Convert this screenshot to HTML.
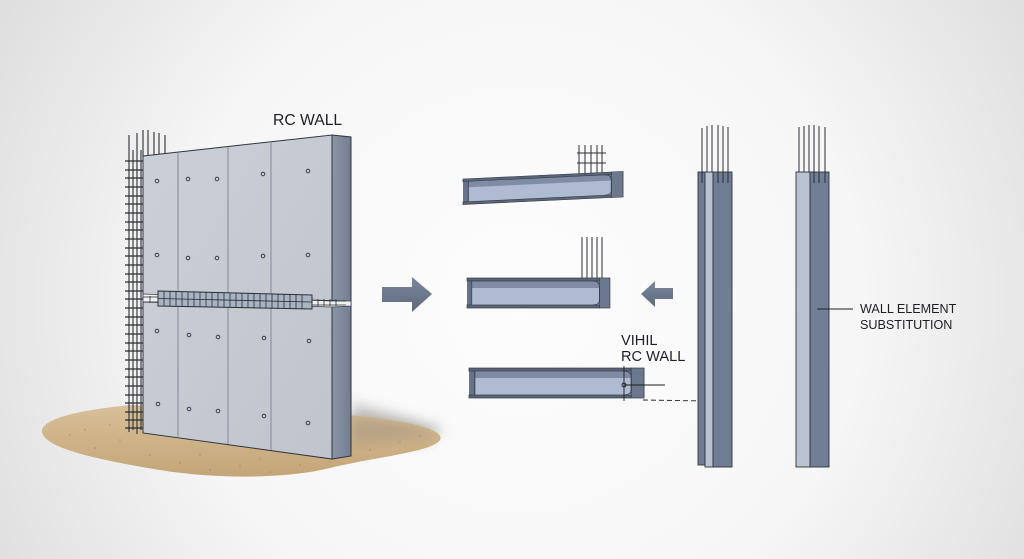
<!DOCTYPE html>
<html><head><meta charset="utf-8"><style>
html,body{margin:0;padding:0;width:1024px;height:559px;overflow:hidden;background:#f4f4f4}
svg{display:block}
text{font-family:"Liberation Sans",sans-serif;fill:#1d1f24}
</style></head><body>
<svg width="1024" height="559" viewBox="0 0 1024 559" xmlns="http://www.w3.org/2000/svg">
<defs>
<radialGradient id="bg" cx="520" cy="300" r="620" gradientUnits="userSpaceOnUse">
<stop offset="0" stop-color="#fdfdfd"/><stop offset="0.55" stop-color="#f6f6f6"/><stop offset="1" stop-color="#dcdcdc"/>
</radialGradient>
<linearGradient id="ground" x1="0" y1="0" x2="0" y2="1">
<stop offset="0" stop-color="#d8c09a"/><stop offset="1" stop-color="#c4a577"/>
</linearGradient>
<linearGradient id="face" x1="0" y1="0" x2="1" y2="1">
<stop offset="0" stop-color="#cbcfd6"/><stop offset="1" stop-color="#c0c5cd"/>
</linearGradient>
<linearGradient id="side" x1="0" y1="0" x2="1" y2="0">
<stop offset="0" stop-color="#8a94a5"/><stop offset="1" stop-color="#737e91"/>
</linearGradient>
<linearGradient id="arr" x1="0" y1="0" x2="0" y2="1">
<stop offset="0" stop-color="#7a879b"/><stop offset="1" stop-color="#5e6a7e"/>
</linearGradient>
<filter id="blur" x="-20%" y="-20%" width="140%" height="140%"><feGaussianBlur stdDeviation="6"/></filter>
<g id="beam">
<!-- generic beam length 150 (incl. plate 11), height 30 -->
<rect x="0" y="0" width="139" height="30" fill="#66738a"/>
<rect x="5" y="3" width="134" height="24" fill="#aebbd0"/>
<rect x="5" y="3" width="134" height="7" fill="#7f8ca3"/>
<rect x="0" y="0" width="139" height="3" fill="#5a6578" stroke="#363d49" stroke-width="0.7"/>
<rect x="0" y="27" width="139" height="3" fill="#5a6578" stroke="#363d49" stroke-width="0.7"/>
<line x1="5" y1="3" x2="5" y2="27" stroke="#363d49" stroke-width="0.8"/>
<rect x="139" y="0" width="11" height="30" fill="#6c788e" stroke="#363d49" stroke-width="0.7"/>
<path d="M132,3 Q139,3 139,9 L139,22 Q139,27 132,27" fill="none" stroke="#363d49" stroke-width="0.8"/>
</g>
</defs>
<rect width="1024" height="559" fill="url(#bg)"/>

<!-- ground -->
<path d="M352,402 L445,428 L420,445 L352,440 Z" fill="#8d8d8d" opacity="0.45" filter="url(#blur)"/>
<path d="M42,430 C45,418 80,410 130,405 L350,415 C400,420 446,428 440,440 C432,452 380,456 330,468 C290,478 220,480 160,470 C100,460 40,448 42,430 Z" fill="url(#ground)"/>
<path d="M352,415 C395,420 430,428 438,436 L352,445 Z" fill="#9c8f7e" opacity="0.5" filter="url(#blur)"/>
<g fill="#9b7e55" opacity="0.7">
<circle cx="70" cy="435" r="0.8"/><circle cx="95" cy="448" r="0.8"/><circle cx="120" cy="440" r="0.8"/><circle cx="150" cy="455" r="0.8"/><circle cx="180" cy="463" r="0.8"/><circle cx="210" cy="470" r="0.8"/><circle cx="240" cy="466" r="0.8"/><circle cx="270" cy="472" r="0.8"/><circle cx="300" cy="465" r="0.8"/><circle cx="330" cy="462" r="0.8"/><circle cx="370" cy="450" r="0.8"/><circle cx="400" cy="442" r="0.8"/><circle cx="420" cy="436" r="0.8"/><circle cx="110" cy="425" r="0.8"/><circle cx="200" cy="455" r="0.8"/><circle cx="260" cy="459" r="0.8"/><circle cx="85" cy="430" r="0.8"/>
</g>

<!-- left rebar grid -->
<g stroke="#2b2e33" stroke-width="1.1">
<line x1="129" y1="135" x2="129" y2="432"/><line x1="133" y1="150" x2="133" y2="430"/><line x1="137" y1="133" x2="137" y2="434"/><line x1="141" y1="150" x2="141" y2="430"/>
<line x1="143" y1="130" x2="143" y2="156"/><line x1="148" y1="130" x2="148" y2="156"/><line x1="154" y1="132" x2="154" y2="155"/><line x1="159" y1="133" x2="159" y2="155"/><line x1="165" y1="135" x2="165" y2="154"/>
</g>
<g stroke="#2b2e33" stroke-width="1.2" id="hbars">
<line x1="125" y1="161" x2="143" y2="161"/><line x1="125" y1="170" x2="143" y2="170"/><line x1="125" y1="178" x2="143" y2="178"/><line x1="125" y1="187" x2="143" y2="187"/><line x1="125" y1="196" x2="143" y2="196"/><line x1="125" y1="204" x2="143" y2="204"/><line x1="125" y1="213" x2="143" y2="213"/><line x1="125" y1="222" x2="143" y2="222"/><line x1="125" y1="230" x2="143" y2="230"/><line x1="125" y1="239" x2="143" y2="239"/><line x1="125" y1="248" x2="143" y2="248"/><line x1="125" y1="256" x2="143" y2="256"/><line x1="125" y1="265" x2="143" y2="265"/><line x1="125" y1="274" x2="143" y2="274"/><line x1="125" y1="282" x2="143" y2="282"/><line x1="125" y1="291" x2="143" y2="291"/><line x1="125" y1="299" x2="143" y2="299"/><line x1="125" y1="308" x2="143" y2="308"/><line x1="125" y1="317" x2="143" y2="317"/><line x1="125" y1="325" x2="143" y2="325"/><line x1="125" y1="334" x2="143" y2="334"/><line x1="125" y1="343" x2="143" y2="343"/><line x1="125" y1="351" x2="143" y2="351"/><line x1="125" y1="360" x2="143" y2="360"/><line x1="125" y1="369" x2="143" y2="369"/><line x1="125" y1="377" x2="143" y2="377"/><line x1="125" y1="386" x2="143" y2="386"/><line x1="125" y1="395" x2="143" y2="395"/><line x1="125" y1="403" x2="143" y2="403"/><line x1="125" y1="412" x2="143" y2="412"/><line x1="125" y1="420" x2="143" y2="420"/><line x1="125" y1="428" x2="143" y2="428"/>
</g>

<!-- wall -->
<polygon points="143,156 332,135 332,459 143,433" fill="url(#face)" stroke="#2f343c" stroke-width="1"/>
<polygon points="332,135 351,137 351,456 332,459" fill="url(#side)" stroke="#2f343c" stroke-width="1"/>
<!-- gap between panels -->
<polygon points="143,294 332,301 351,301 351,306 332,307 143,302" fill="#eef0f2" stroke="#3a3f47" stroke-width="0.8"/>
<g stroke="#7c838e" stroke-width="0.9">
<line x1="178" y1="152" x2="178" y2="438"/><line x1="228" y1="146.5" x2="228" y2="444"/><line x1="271" y1="141.8" x2="271" y2="450"/>
</g>
<!-- mesh beam -->
<polygon points="158,291 312,295 312,309 158,306" fill="#a8b3c3" stroke="#2b2e33" stroke-width="1"/>
<g stroke="#2b2e33" stroke-width="0.8">
<line x1="158" y1="298.5" x2="312" y2="302"/>
<line x1="164" y1="291" x2="164" y2="306"/><line x1="170" y1="291" x2="170" y2="306"/><line x1="176" y1="291" x2="176" y2="306"/><line x1="182" y1="292" x2="182" y2="306"/><line x1="188" y1="292" x2="188" y2="307"/><line x1="194" y1="292" x2="194" y2="307"/><line x1="200" y1="292" x2="200" y2="307"/><line x1="206" y1="292" x2="206" y2="307"/><line x1="212" y1="292" x2="212" y2="307"/><line x1="218" y1="292" x2="218" y2="307"/><line x1="224" y1="293" x2="224" y2="307"/><line x1="230" y1="293" x2="230" y2="307"/><line x1="236" y1="293" x2="236" y2="307"/><line x1="242" y1="293" x2="242" y2="308"/><line x1="248" y1="293" x2="248" y2="308"/><line x1="254" y1="293" x2="254" y2="308"/><line x1="260" y1="294" x2="260" y2="308"/><line x1="266" y1="294" x2="266" y2="308"/><line x1="272" y1="294" x2="272" y2="308"/><line x1="278" y1="294" x2="278" y2="308"/><line x1="284" y1="294" x2="284" y2="308"/><line x1="290" y1="294" x2="290" y2="309"/><line x1="296" y1="295" x2="296" y2="309"/><line x1="302" y1="295" x2="302" y2="309"/>
<line x1="143" y1="297" x2="158" y2="297"/><line x1="143" y1="302" x2="158" y2="302"/>
<line x1="312" y1="300" x2="346" y2="301"/><line x1="312" y1="305" x2="346" y2="305"/>
<line x1="318" y1="299" x2="318" y2="306"/><line x1="324" y1="299" x2="324" y2="306"/><line x1="330" y1="299" x2="330" y2="306"/><line x1="336" y1="299" x2="336" y2="306"/><line x1="150" y1="296" x2="150" y2="303"/>
</g>
<!-- dots -->
<g fill="none" stroke="#3a3f47" stroke-width="1">
<circle cx="157" cy="181" r="1.8"/><circle cx="188" cy="179" r="1.8"/><circle cx="217" cy="179" r="1.8"/><circle cx="263" cy="174" r="1.8"/><circle cx="308" cy="171" r="1.8"/>
<circle cx="157" cy="255" r="1.8"/><circle cx="188" cy="258" r="1.8"/><circle cx="217" cy="258" r="1.8"/><circle cx="263" cy="256" r="1.8"/><circle cx="308" cy="255" r="1.8"/>
<circle cx="157" cy="331" r="1.8"/><circle cx="189" cy="335" r="1.8"/><circle cx="218" cy="337" r="1.8"/><circle cx="264" cy="338" r="1.8"/><circle cx="309" cy="341" r="1.8"/>
<circle cx="158" cy="404" r="1.8"/><circle cx="189" cy="409" r="1.8"/><circle cx="218" cy="411" r="1.8"/><circle cx="264" cy="416" r="1.8"/><circle cx="308" cy="423" r="1.8"/>
</g>
<text x="273" y="125" font-size="15.7">RC WALL</text>

<!-- arrows -->
<polygon points="382,287 412,287 412,277 432,294 412,312 412,302 382,302" fill="url(#arr)"/>
<polygon points="673,288 655,288 655,281 641,294 655,307 655,299 673,299" fill="url(#arr)"/>

<!-- beam 1 -->
<g stroke="#2b2e33" stroke-width="1">
<line x1="579" y1="145" x2="579" y2="176"/><line x1="585" y1="145" x2="585" y2="176"/><line x1="591" y1="145" x2="591" y2="175"/><line x1="597" y1="145" x2="597" y2="175"/><line x1="602" y1="145" x2="602" y2="175"/>
<line x1="577" y1="153" x2="606" y2="153"/><line x1="577" y1="163" x2="606" y2="163"/>
</g>
<g transform="translate(463,179) skewY(-2.7) scale(1.067,0.85)"><use href="#beam"/></g>

<!-- beam 2 -->
<g stroke="#2b2e33" stroke-width="1">
<line x1="582" y1="237" x2="582" y2="279"/><line x1="587" y1="237" x2="587" y2="279"/><line x1="592" y1="237" x2="592" y2="279"/><line x1="597" y1="237" x2="597" y2="279"/><line x1="602" y1="237" x2="602" y2="279"/>
</g>
<g transform="translate(467,278) scale(0.953,1)"><use href="#beam"/></g>

<!-- beam 3 -->
<g transform="translate(469,368) scale(1.167,1)"><use href="#beam"/></g>
<g stroke="#1d1f24" stroke-width="0.9" fill="none">
<line x1="624" y1="366" x2="624" y2="401"/>
<line x1="624" y1="385" x2="665" y2="385"/>
<circle cx="624" cy="385" r="2"/>
<line x1="643" y1="400" x2="705" y2="401" stroke-dasharray="5,3"/>
</g>
<circle cx="705.5" cy="401" r="1.8" fill="#2b2e33"/>
<text x="621" y="345" font-size="14.6">VIHIL</text>
<text x="621" y="361" font-size="14.6">RC WALL</text>

<!-- column 1 -->
<g stroke="#2b2e33" stroke-width="1">
<line x1="702" y1="128" x2="702" y2="183"/><line x1="707" y1="126" x2="707" y2="183"/><line x1="712" y1="125" x2="712" y2="183"/><line x1="718" y1="125" x2="718" y2="183"/><line x1="723" y1="126" x2="723" y2="183"/><line x1="728" y1="127" x2="728" y2="183"/>
</g>
<rect x="698" y="172" width="7" height="293" fill="#6f7c93" stroke="#2f343c" stroke-width="0.9"/>
<rect x="705" y="172" width="8" height="295" fill="#b8c2d1" stroke="#2f343c" stroke-width="0.9"/>
<rect x="713" y="172" width="19" height="295" fill="#6f7c93" stroke="#2f343c" stroke-width="0.9"/>
<g stroke="#2b2e33" stroke-width="1">
<line x1="702" y1="172" x2="702" y2="183"/><line x1="718" y1="172" x2="718" y2="183"/><line x1="723" y1="172" x2="723" y2="183"/><line x1="728" y1="172" x2="728" y2="183"/>
</g>

<!-- column 2 -->
<g stroke="#2b2e33" stroke-width="1">
<line x1="799" y1="127" x2="799" y2="183"/><line x1="804" y1="126" x2="804" y2="183"/><line x1="809" y1="125" x2="809" y2="183"/><line x1="814" y1="125" x2="814" y2="183"/><line x1="819" y1="126" x2="819" y2="183"/><line x1="825" y1="127" x2="825" y2="183"/>
</g>
<rect x="796" y="172" width="14" height="295" fill="#b9c3d1" stroke="#2f343c" stroke-width="0.9"/>
<rect x="810" y="172" width="19" height="295" fill="#717e95" stroke="#2f343c" stroke-width="0.9"/>
<g stroke="#2b2e33" stroke-width="1">
<line x1="814" y1="172" x2="814" y2="183"/><line x1="819" y1="172" x2="819" y2="183"/><line x1="825" y1="172" x2="825" y2="183"/>
</g>
<line x1="817" y1="309" x2="853" y2="309" stroke="#1d1f24" stroke-width="1"/>
<text x="860" y="313" font-size="12.6">WALL ELEMENT</text>
<text x="860" y="329" font-size="12.6">SUBSTITUTION</text>
</svg>
</body></html>
